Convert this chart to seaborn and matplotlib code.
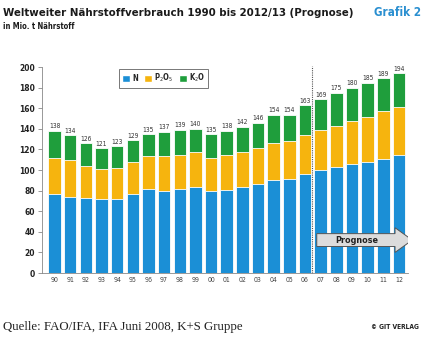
import matplotlib
matplotlib.use("Agg")
import matplotlib.pyplot as plt
import seaborn as sns
import pandas as pd
import numpy as np
from matplotlib.patches import FancyArrow, Patch

years = ["90", "91", "92", "93", "94", "95", "96", "97", "98", "99", "00", "01",
         "02", "03", "04", "05", "06", "07", "08", "09", "10", "11", "12"]
n_vals = [77, 74, 73, 72, 72, 77, 82, 80, 82, 84, 80, 81, 84, 86, 90, 91, 96,
          100, 103, 106, 108, 111, 115]
p_vals = [35, 36, 31, 29, 30, 31, 32, 34, 33, 34, 32, 34, 34, 35, 36, 37, 38,
          39, 40, 42, 44, 46, 46]
k_vals = [26, 24, 22, 20, 21, 21, 21, 23, 24, 22, 23, 23, 24, 25, 28, 26, 29,
          30, 32, 32, 33, 32, 33]
total_labels = [138, 134, 126, 121, 123, 129, 135, 137, 139, 140, 135, 138, 142,
                146, 154, 154, 163, 169, 175, 180, 185, 189, 194]
y_ticks = [0, 20, 40, 60, 80, 100, 120, 140, 160, 180, 200]

df = pd.DataFrame({"year": years, "N": n_vals, "P": p_vals, "K": k_vals})
df["NP"] = df["N"] + df["P"]
df["NPK"] = df["NP"] + df["K"]

sns.set_style("white")
plt.rcParams["font.family"] = ["DejaVu Sans"]
plt.rcParams["font.stretch"] = "condensed"

C_N = "#1b8fd6"
C_P = "#f6b40e"
C_K = "#1f9e3c"

fig = plt.figure(figsize=(4.25, 3.38), dpi=100)
ax = fig.add_axes([0.0988, 0.1923, 0.862, 0.609])

for col, c in [("NPK", C_K), ("NP", C_P), ("N", C_N)]:
    sns.barplot(data=df, x="year", y=col, color=c, width=0.8, edgecolor="white",
                linewidth=0.6, saturation=1, ax=ax)

for i, t in enumerate(total_labels):
    ax.text(i, df["NPK"][i] + 1.5, str(t), ha="center", va="bottom", fontsize=4.8,
            color="#333333")

ax.set_xlim(-0.8, 22.6)
ax.set_ylim(0, 200)
ax.set_yticks(y_ticks)
ax.set_yticklabels([str(v) for v in y_ticks], fontsize=6, fontweight="bold", color="#222222")
ax.tick_params(axis="y", length=3, width=0.6, color="#888888", pad=2, left=True)
ax.tick_params(axis="x", length=0, labelsize=5, labelcolor="#444444", pad=3)
ax.set_xlabel("")
ax.set_ylabel("")
for s in ["top", "right"]:
    ax.spines[s].set_visible(False)
ax.spines["left"].set_color("#888888")
ax.spines["bottom"].set_color("#888888")
ax.spines["left"].set_linewidth(0.6)
ax.spines["bottom"].set_linewidth(0.6)

ax.vlines(16.45, 0, 201, colors="#555555", linestyles=(0, (1, 1)), linewidth=0.8,
          clip_on=False)

arrow = FancyArrow(16.75, 32, 5.0, 0, width=12.5, head_width=24, head_length=1.1,
                   length_includes_head=False, facecolor="#dcdcdc", edgecolor="#555555",
                   linewidth=0.7, zorder=5)
ax.add_patch(arrow)
ax.text(19.3, 32, "Prognose", ha="center", va="center", fontsize=6.5,
        fontweight="bold", color="#222222", zorder=6)

handles = [Patch(facecolor=C_N, label="N"),
           Patch(facecolor=C_P, label="P$_2$O$_5$"),
           Patch(facecolor=C_K, label="K$_2$O")]
leg = ax.legend(handles=handles, loc="upper left", bbox_to_anchor=(0.2, 1.01), ncol=3,
                fontsize=5.5, frameon=True, handlelength=1.0, handleheight=1.0,
                handletextpad=0.3, columnspacing=0.8, borderpad=0.4, fancybox=False,
                edgecolor="#555555")
leg.get_frame().set_linewidth(0.7)
for t in leg.get_texts():
    t.set_fontweight("bold")

fig.text(0.008, 0.962, "Weltweiter Nährstoffverbrauch 1990 bis 2012/13 (Prognose)",
         fontsize=8.2, fontweight="bold", fontstretch="condensed", color="#1a1a1a",
         ha="left", va="center")
fig.text(0.99, 0.962, "Grafik 2", fontsize=8.4, fontweight="bold", color="#2a8fd0",
         fontstretch="condensed", ha="right", va="center")
fig.text(0.008, 0.922, "in Mio. t Nährstoff", fontsize=5.5, fontweight="bold",
         color="#1a1a1a", ha="left", va="center")
fig.text(0.008, 0.033, "Quelle: FAO/IFA, IFA Juni 2008, K+S Gruppe", fontsize=9.3,
         family=["Liberation Serif", "DejaVu Serif"], color="#222222", ha="left",
         va="center")
fig.text(0.985, 0.033, "© GIT VERLAG", fontsize=4.8, fontweight="bold",
         color="#222222", ha="right", va="center")

fig.savefig("out.png", dpi=100)
